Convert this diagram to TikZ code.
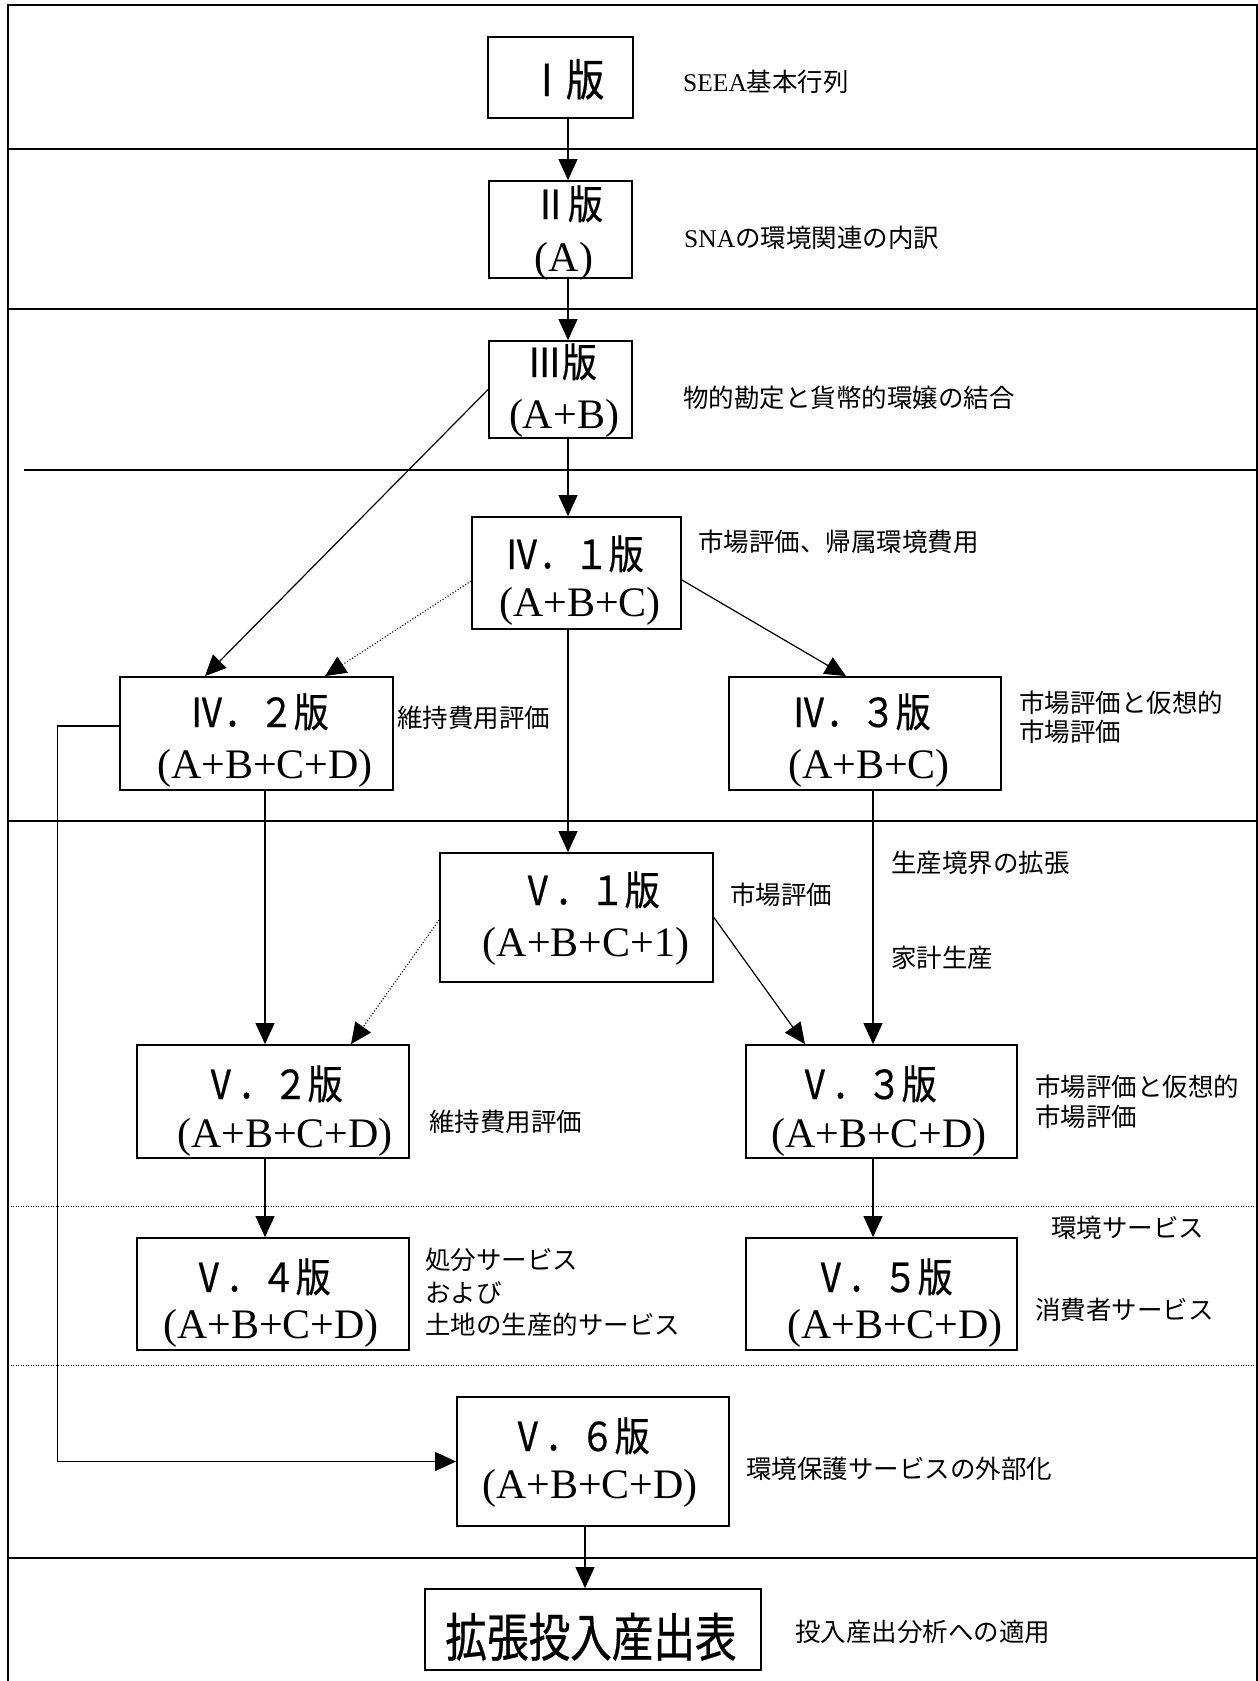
\documentclass[tikz,border=0pt]{standalone}
\usepackage{fontspec}
\setmainfont{Liberation Serif}
\newfontfamily\jp{Noto Sans CJK JP}
\newfontfamily\jpt[FakeStretch=0.87,FakeBold=0.6]{Noto Sans CJK JP}
\newfontfamily\jpf[FakeStretch=0.8,FakeBold=0.6]{Noto Sans CJK JP}
\usetikzlibrary{arrows.meta,calc}
\begin{document}
\begin{tikzpicture}[x=1pt,y=-1pt,
  frame/.style={line width=2pt},
  divdot/.style={line width=1pt, dash pattern=on 1pt off 1.5pt},
  vbox/.style={draw, line width=1.8pt, inner sep=0pt},
  conn/.style={line width=1.2pt, -{Triangle[length=21pt,width=19pt]}},
  dconn/.style={line width=1.2pt, dash pattern=on 1pt off 2pt, -{Triangle[length=21pt,width=19pt]}},
  ttl/.style={inner sep=0pt, text height=32pt, text depth=2pt, font=\jpt\fontsize{40}{40}\selectfont},
  frm/.style={inner sep=0pt, text height=29pt, text depth=9pt, font=\fontsize{42}{42}\selectfont},
  lab/.style={inner sep=0pt, anchor=west, text height=22pt, text depth=3pt, font=\jp\fontsize{25.5}{25.5}\selectfont},
]
\useasboundingbox (0,0) rectangle (1258,1681);
\fill[white] (0,0) rectangle (1258,1681);

% frame and dividers
\draw[frame] (8,1681) -- (8,4.7) -- (1257,4.7) -- (1257,1681);
\draw[frame] (8,149) -- (1257,149);
\draw[frame] (8,309) -- (1257,309);
\draw[frame] (24,470) -- (1257,470);
\draw[frame] (8,821) -- (1257,821);
\draw[divdot] (8,1206) -- (1257,1206);
\draw[divdot] (8,1365) -- (1257,1365);
\draw[frame] (8,1558) -- (1257,1558);

% boxes
\node[vbox, minimum width=145pt, minimum height=81pt] (I) at (560.5,77.5) {};
\node[vbox, minimum width=143pt, minimum height=97pt] (II) at (560.5,229.5) {};
\node[vbox, minimum width=143pt, minimum height=97pt] (III) at (560.5,389.5) {};
\node[vbox, minimum width=209pt, minimum height=112pt] (IV1) at (576.5,573) {};
\node[vbox, minimum width=273pt, minimum height=113pt] (IV2) at (256.5,733.5) {};
\node[vbox, minimum width=272pt, minimum height=113pt] (IV3) at (865,733.5) {};
\node[vbox, minimum width=273pt, minimum height=129pt] (V1) at (576.5,917.5) {};
\node[vbox, minimum width=272pt, minimum height=113pt] (V2) at (273,1101.5) {};
\node[vbox, minimum width=271pt, minimum height=113pt] (V3) at (881.5,1101.5) {};
\node[vbox, minimum width=272pt, minimum height=112pt] (V4) at (273,1294) {};
\node[vbox, minimum width=271pt, minimum height=112pt] (V5) at (881.5,1294) {};
\node[vbox, minimum width=272pt, minimum height=129pt] (V6) at (593,1461.5) {};
\node[vbox, minimum width=336pt, minimum height=81pt] (F) at (593,1629.5) {};

% box texts
\node[ttl, font=\jpt\fontsize{44}{44}\selectfont] (It) at (566,81) {Ⅰ版};
\node[ttl] (IIt) at (568,204) {Ⅱ版};
\node[frm] (IIs) at (564,261) {(A)};
\node[ttl] (IIIt) at (562,362) {Ⅲ版};
\node[frm] (IIIs) at (564,418) {(A+B)};
\node[ttl] (IV1t) at (574,554) {Ⅳ．１版};
\node[frm] (IV1s) at (580,606) {(A+B+C)};
\node[ttl] (IV2t) at (259,712) {Ⅳ．２版};
\node[frm] (IV2s) at (265,768) {(A+B+C+D)};
\node[ttl] (IV3t) at (861,712) {Ⅳ．３版};
\node[frm] (IV3s) at (869,768) {(A+B+C)};
\node[ttl] (V1t) at (590,890) {Ⅴ．１版};
\node[frm] (V1s) at (586,946) {(A+B+C+1)};
\node[ttl] (V2t) at (273,1084) {Ⅴ．２版};
\node[frm] (V2s) at (285,1137) {(A+B+C+D)};
\node[ttl] (V3t) at (867,1084) {Ⅴ．３版};
\node[frm] (V3s) at (879,1137) {(A+B+C+D)};
\node[ttl] (V4t) at (261,1277) {Ⅴ．４版};
\node[frm] (V4s) at (271,1328) {(A+B+C+D)};
\node[ttl] (V5t) at (883,1277) {Ⅴ．５版};
\node[frm] (V5s) at (895,1328) {(A+B+C+D)};
\node[ttl] (V6t) at (580,1436) {Ⅴ．６版};
\node[frm] (V6s) at (590,1488) {(A+B+C+D)};
\node[inner sep=0pt, text height=42pt, text depth=3pt, font=\jpf\fontsize{52}{52}\selectfont] (Ft) at (591,1637) {拡張投入産出表};

% labels
\node[lab] (L1) at (683,82) {{\rmfamily SEEA}基本行列};
\node[lab] (L2) at (684,238) {{\rmfamily SNA}の環境関連の内訳};
\node[lab] (L3) at (683,398) {物的勘定と貨幣的環嬢の結合};
\node[lab] (L4) at (698,542) {市場評価、帰属環境費用};
\node[lab] (L5) at (397,718) {維持費用評価};
\node[lab] (L6a) at (1019,703) {市場評価と仮想的};
\node[lab] (L6b) at (1019,732) {市場評価};
\node[lab] (L7) at (730,895) {市場評価};
\node[lab] (L8) at (891,863) {生産境界の拡張};
\node[lab] (L9) at (891,958) {家計生産};
\node[lab] (L10) at (429,1122) {維持費用評価};
\node[lab] (L11a) at (1035,1087) {市場評価と仮想的};
\node[lab] (L11b) at (1035,1117) {市場評価};
\node[lab] (L12) at (1051,1228) {環境サービス};
\node[lab] (L13a) at (425,1260) {処分サービス};
\node[lab] (L13b) at (425,1293) {および};
\node[lab] (L13c) at (425,1325) {土地の生産的サービス};
\node[lab] (L14) at (1035,1310) {消費者サービス};
\node[lab] (L15) at (746,1469) {環境保護サービスの外部化};
\node[lab] (L16) at (795,1632) {投入産出分析への適用};

% connectors
\draw[conn] ([xshift=7.5pt]I.south) -- ([xshift=7.5pt]II.north);
\draw[conn] ([xshift=7.5pt]II.south) -- ([xshift=7.5pt]III.north);
\draw[conn] ([xshift=7.5pt]III.south) -- ([xshift=-8.5pt]IV1.north);
\draw[conn] (III.west) -- ([xshift=-51.5pt]IV2.north);
\draw[dconn] ([yshift=-8pt]IV1.west) -- ([xshift=68.5pt]IV2.north);
\draw[conn] ([yshift=-7pt]IV1.east) -- ([xshift=-19pt]IV3.north);
\draw[conn] ([xshift=-8.5pt]IV1.south) -- ([xshift=-8.5pt]V1.north);
\draw[conn] ([xshift=8.5pt]IV2.south) -- ([xshift=-8pt]V2.north);
\draw[conn] ([xshift=8pt]IV3.south) -- ([xshift=-8.5pt]V3.north);
\draw[dconn] ([yshift=-2.5pt]V1.west) -- ([xshift=78pt]V2.north);
\draw[conn] (V1.east) -- ([xshift=-76.5pt]V3.north);
\draw[conn] ([xshift=-8pt]V2.south) -- ([xshift=-8pt]V4.north);
\draw[conn] ([xshift=-8.5pt]V3.south) -- ([xshift=-8.5pt]V5.north);
\draw[conn] ([yshift=7.5pt]IV2.west) -- ++(-62,0) |- (V6.west);
\draw[conn] ([xshift=-8pt]V6.south) -- ([xshift=-8pt]F.north);
\end{tikzpicture}
\end{document}
